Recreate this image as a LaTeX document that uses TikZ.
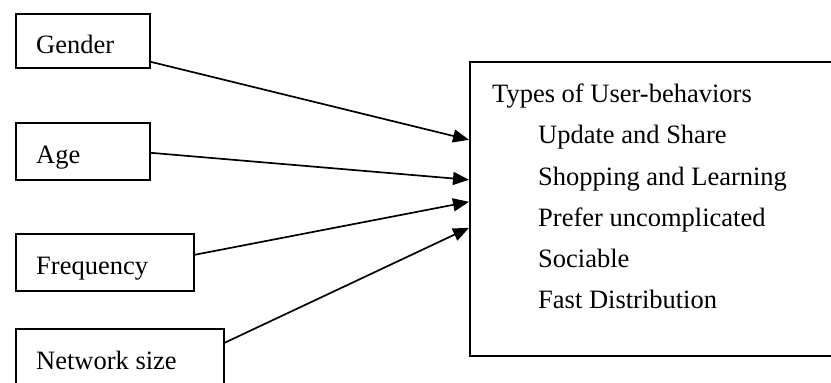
\documentclass[tikz,border=0pt]{standalone}
\usepackage{fontspec}
\setmainfont{Liberation Serif}
\usetikzlibrary{arrows.meta}
\begin{document}
\begin{tikzpicture}[x=1pt,y=-1pt,
  box/.style={draw, line width=1.6pt, inner sep=0pt, anchor=north west},
  lbl/.style={anchor=base west, inner sep=0pt, font=\fontsize{26.5}{31}\selectfont},
  conn/.style={line width=1.7pt, -{Triangle[length=16pt,width=13pt]}}]
\useasboundingbox (0,0) rectangle (831,383);
\clip (0,0) rectangle (831,383);
% left boxes
\node[box, minimum width=134pt, minimum height=54pt] (g) at (15,13) {};
\node[lbl] (gt) at (36,53) {Gender};
\node[box, minimum width=134pt, minimum height=57pt] (a) at (15,122) {};
\node[lbl] (at) at (36,163) {Age};
\node[box, minimum width=178pt, minimum height=57pt] (f) at (15,233) {};
\node[lbl] (ft) at (36,274) {Frequency};
\node[box, minimum width=208pt, minimum height=80pt] (n) at (15,328) {};
\node[lbl] (nt) at (36,369) {Network size};
% right box
\node[box, minimum width=440pt, minimum height=294pt] (t) at (469,61) {};
\node[lbl] (t0) at (492,102) {Types of User-behaviors};
\node[lbl] (t1) at (538,143) {Update and Share};
\node[lbl] (t2) at (538,185) {Shopping and Learning};
\node[lbl] (t3) at (538,226) {Prefer uncomplicated};
\node[lbl] (t4) at (538,267) {Sociable};
\node[lbl] (t5) at (538,308) {Fast Distribution};
% connectors
\draw[conn] ([yshift=-21pt]g.east) -- ([yshift=69pt]t.west);
\draw[conn] ([yshift=-1.5pt]a.east) -- ([yshift=29pt]t.west);
\draw[conn] ([yshift=7.5pt]f.east) -- ([yshift=7pt]t.west);
\draw[conn] ([yshift=26pt]n.east) -- ([yshift=-19pt]t.west);
\end{tikzpicture}
\end{document}
